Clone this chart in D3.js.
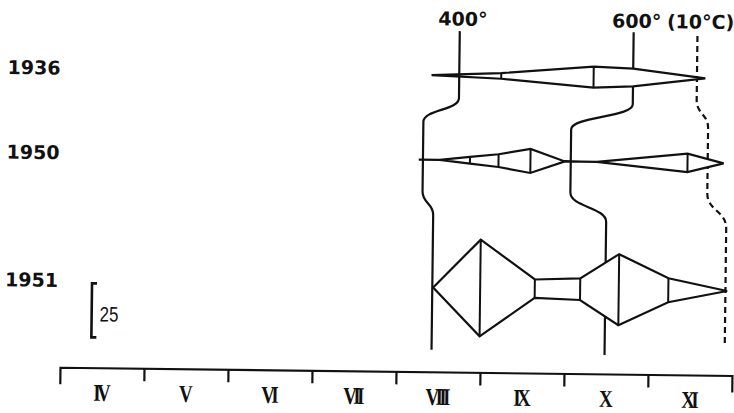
<!DOCTYPE html>
<html>
<head>
<meta charset="utf-8">
<script src="https://cdn.jsdelivr.net/npm/d3@7"></script>
<style>
  html, body { margin: 0; padding: 0; background: #fff; }
  svg { display: block; }
</style>
</head>
<body>
<svg id="chart" width="734" height="413"></svg>
<script>
// Months on the time axis, April to November
const months = ["IV", "V", "VI", "VII", "VIII", "IX", "X", "XI"];
const firstMonth = 4;
const lastMonth = 12;

// Observation years
const years = ["1936", "1950", "1951"];

// Samples per year: t = month number plus fraction of month, n = abundance (kite width).
// mark:false = bend of the outline with no sampling stroke drawn
const samples1936 = [
  { t: 8.38, n: 0 },
  { t: 9.21, n: 2.6 },
  { t: 10.31, n: 9.7 },
  { t: 10.78, n: 8.2, mark: false },
  { t: 11.64, n: 0 }
];
const samples1950 = [
  { t: 8.24, n: 0 },
  { t: 8.49, n: 0 },
  { t: 8.85, n: 3.1 },
  { t: 9.19, n: 5.9 },
  { t: 9.57, n: 11.1 },
  { t: 9.98, n: 0 },
  { t: 10.36, n: 0 },
  { t: 11.44, n: 8.5 },
  { t: 11.87, n: 0 }
];
const samples1951 = [
  { t: 8.43, n: 0 },
  { t: 8.99, n: 44.8 },
  { t: 9.64, n: 8.5 },
  { t: 10.18, n: 10.0 },
  { t: 10.64, n: 32.9 },
  { t: 11.23, n: 11.1 },
  { t: 11.93, n: 0 }
];

// Date each temperature sum was reached, per year (1936, 1950, 1951)
const isoNames = ["400°", "600°", "(10°C)"];
const iso400 = [8.71, 8.29, 8.42];
const iso600 = [10.78, 10.05, 10.48];
const iso10C = [11.54, 11.68, 11.91];

// Reference bar for the abundance scale
const scaleBarValue = 25;

// ---------------------------------------------------------------
const svg = d3.select("#chart");
const root = svg.append("g").attr("transform", "rotate(0.7 367 206)");

const x = d3.scaleLinear().domain([firstMonth, lastMonth]).range([62, 734]);
const width = d3.scaleLinear().domain([0, 25]).range([0, 54]);
const rowY = d3.scaleOrdinal().domain(years).range([74.3, 159, 286.6]);

const ink = "#111";
const numFont = "'DejaVu Sans', sans-serif";
const lw = 2.2;

// Threshold curves: vertical per year, joined by smooth steps between rows
const isoSeries = [iso400, iso600, iso10C];
const isoLayout = [
  { top: 30, bottom: 349, steps: [[97, 121], [191, 214]], dash: null },
  { top: 29, bottom: 352, steps: [[101, 127], [190, 219]], dash: null },
  { top: 32, bottom: 342, steps: [[96, 124], [189, 224]], dash: "6,4" }
];

isoSeries.forEach((dates, i) => {
  const L = isoLayout[i];
  const p = d3.path();
  let cx = x(dates[0]);
  p.moveTo(cx, L.top);
  L.steps.forEach(([y0, y1], k) => {
    const nx = x(dates[k + 1]);
    const ym = (y0 + y1) / 2;
    p.lineTo(cx, y0);
    p.bezierCurveTo(cx, ym, nx, ym, nx, y1);
    cx = nx;
  });
  p.lineTo(cx, L.bottom);
  root.append("path")
    .attr("d", p.toString())
    .attr("fill", "none")
    .attr("stroke", ink)
    .attr("stroke-width", lw)
    .attr("stroke-dasharray", L.dash);

  root.append("text")
    .attr("x", x(dates[0]) + 3)
    .attr("y", 24.5)
    .attr("text-anchor", "middle")
    .attr("font-family", numFont)
    .attr("font-weight", "bold")
    .attr("font-size", 19)
    .attr("fill", ink)
    .text(isoNames[i]);
});

// Kite diagrams
const allSamples = [samples1936, samples1950, samples1951];
allSamples.forEach((data, i) => {
  const base = rowY(years[i]);
  const area = d3.area()
    .x(d => x(d.t))
    .y0(d => base + width(d.n) / 2)
    .y1(d => base - width(d.n) / 2);
  root.append("path")
    .attr("d", area(data))
    .attr("fill", "#fff")
    .attr("stroke", ink)
    .attr("stroke-width", lw)
    .attr("stroke-linejoin", "miter");

  root.selectAll(null)
    .data(data.filter(d => d.n > 0 && d.mark !== false))
    .join("line")
    .attr("x1", d => x(d.t)).attr("x2", d => x(d.t))
    .attr("y1", d => base - width(d.n) / 2)
    .attr("y2", d => base + width(d.n) / 2)
    .attr("stroke", ink)
    .attr("stroke-width", 2);

  root.append("text")
    .attr("x", 6)
    .attr("y", base + 4)
    .attr("font-family", numFont)
    .attr("font-weight", "bold")
    .attr("font-size", 19)
    .attr("fill", ink)
    .text(years[i]);
});

// Scale bar
const sbX = 93, sbY = 286.7;
root.append("path")
  .attr("d", `M${sbX + 5},${sbY}H${sbX}V${sbY + width(scaleBarValue)}H${sbX + 5}`)
  .attr("fill", "none")
  .attr("stroke", ink)
  .attr("stroke-width", 2.6);
root.append("text")
  .attr("transform", `translate(${sbX + 8},${sbY + 38}) scale(0.8,1)`)
  .attr("font-family", "'Liberation Sans', sans-serif")
  .attr("font-size", 21)
  .attr("fill", ink)
  .text(scaleBarValue);

// Month axis
const axisY = 371;
const boundaries = d3.range(firstMonth + 1, lastMonth);
const axis = root.append("g")
  .attr("transform", `translate(0,${axisY})`)
  .call(d3.axisBottom(x)
    .tickValues(boundaries)
    .tickSizeInner(13)
    .tickSizeOuter(17)
    .tickFormat(""));
axis.selectAll("path, line")
  .attr("stroke", ink)
  .attr("stroke-width", lw);

const centers = months.map((m, i) => firstMonth + i + 0.5);
const labelAxis = root.append("g")
  .attr("transform", `translate(-2,${axisY})`)
  .call(d3.axisBottom(x)
    .tickValues(centers)
    .tickSize(0)
    .tickFormat((d, i) => months[i]));
labelAxis.select(".domain").remove();
labelAxis.selectAll("text")
  .attr("y", 33)
  .attr("dy", 0)
  .attr("transform", "scale(0.78,1)")
  .attr("font-family", "'Liberation Serif', serif")
  .attr("font-weight", "bold")
  .attr("font-size", 24)
  .attr("letter-spacing", -4.5)
  .attr("fill", ink);
</script>
</body>
</html>
